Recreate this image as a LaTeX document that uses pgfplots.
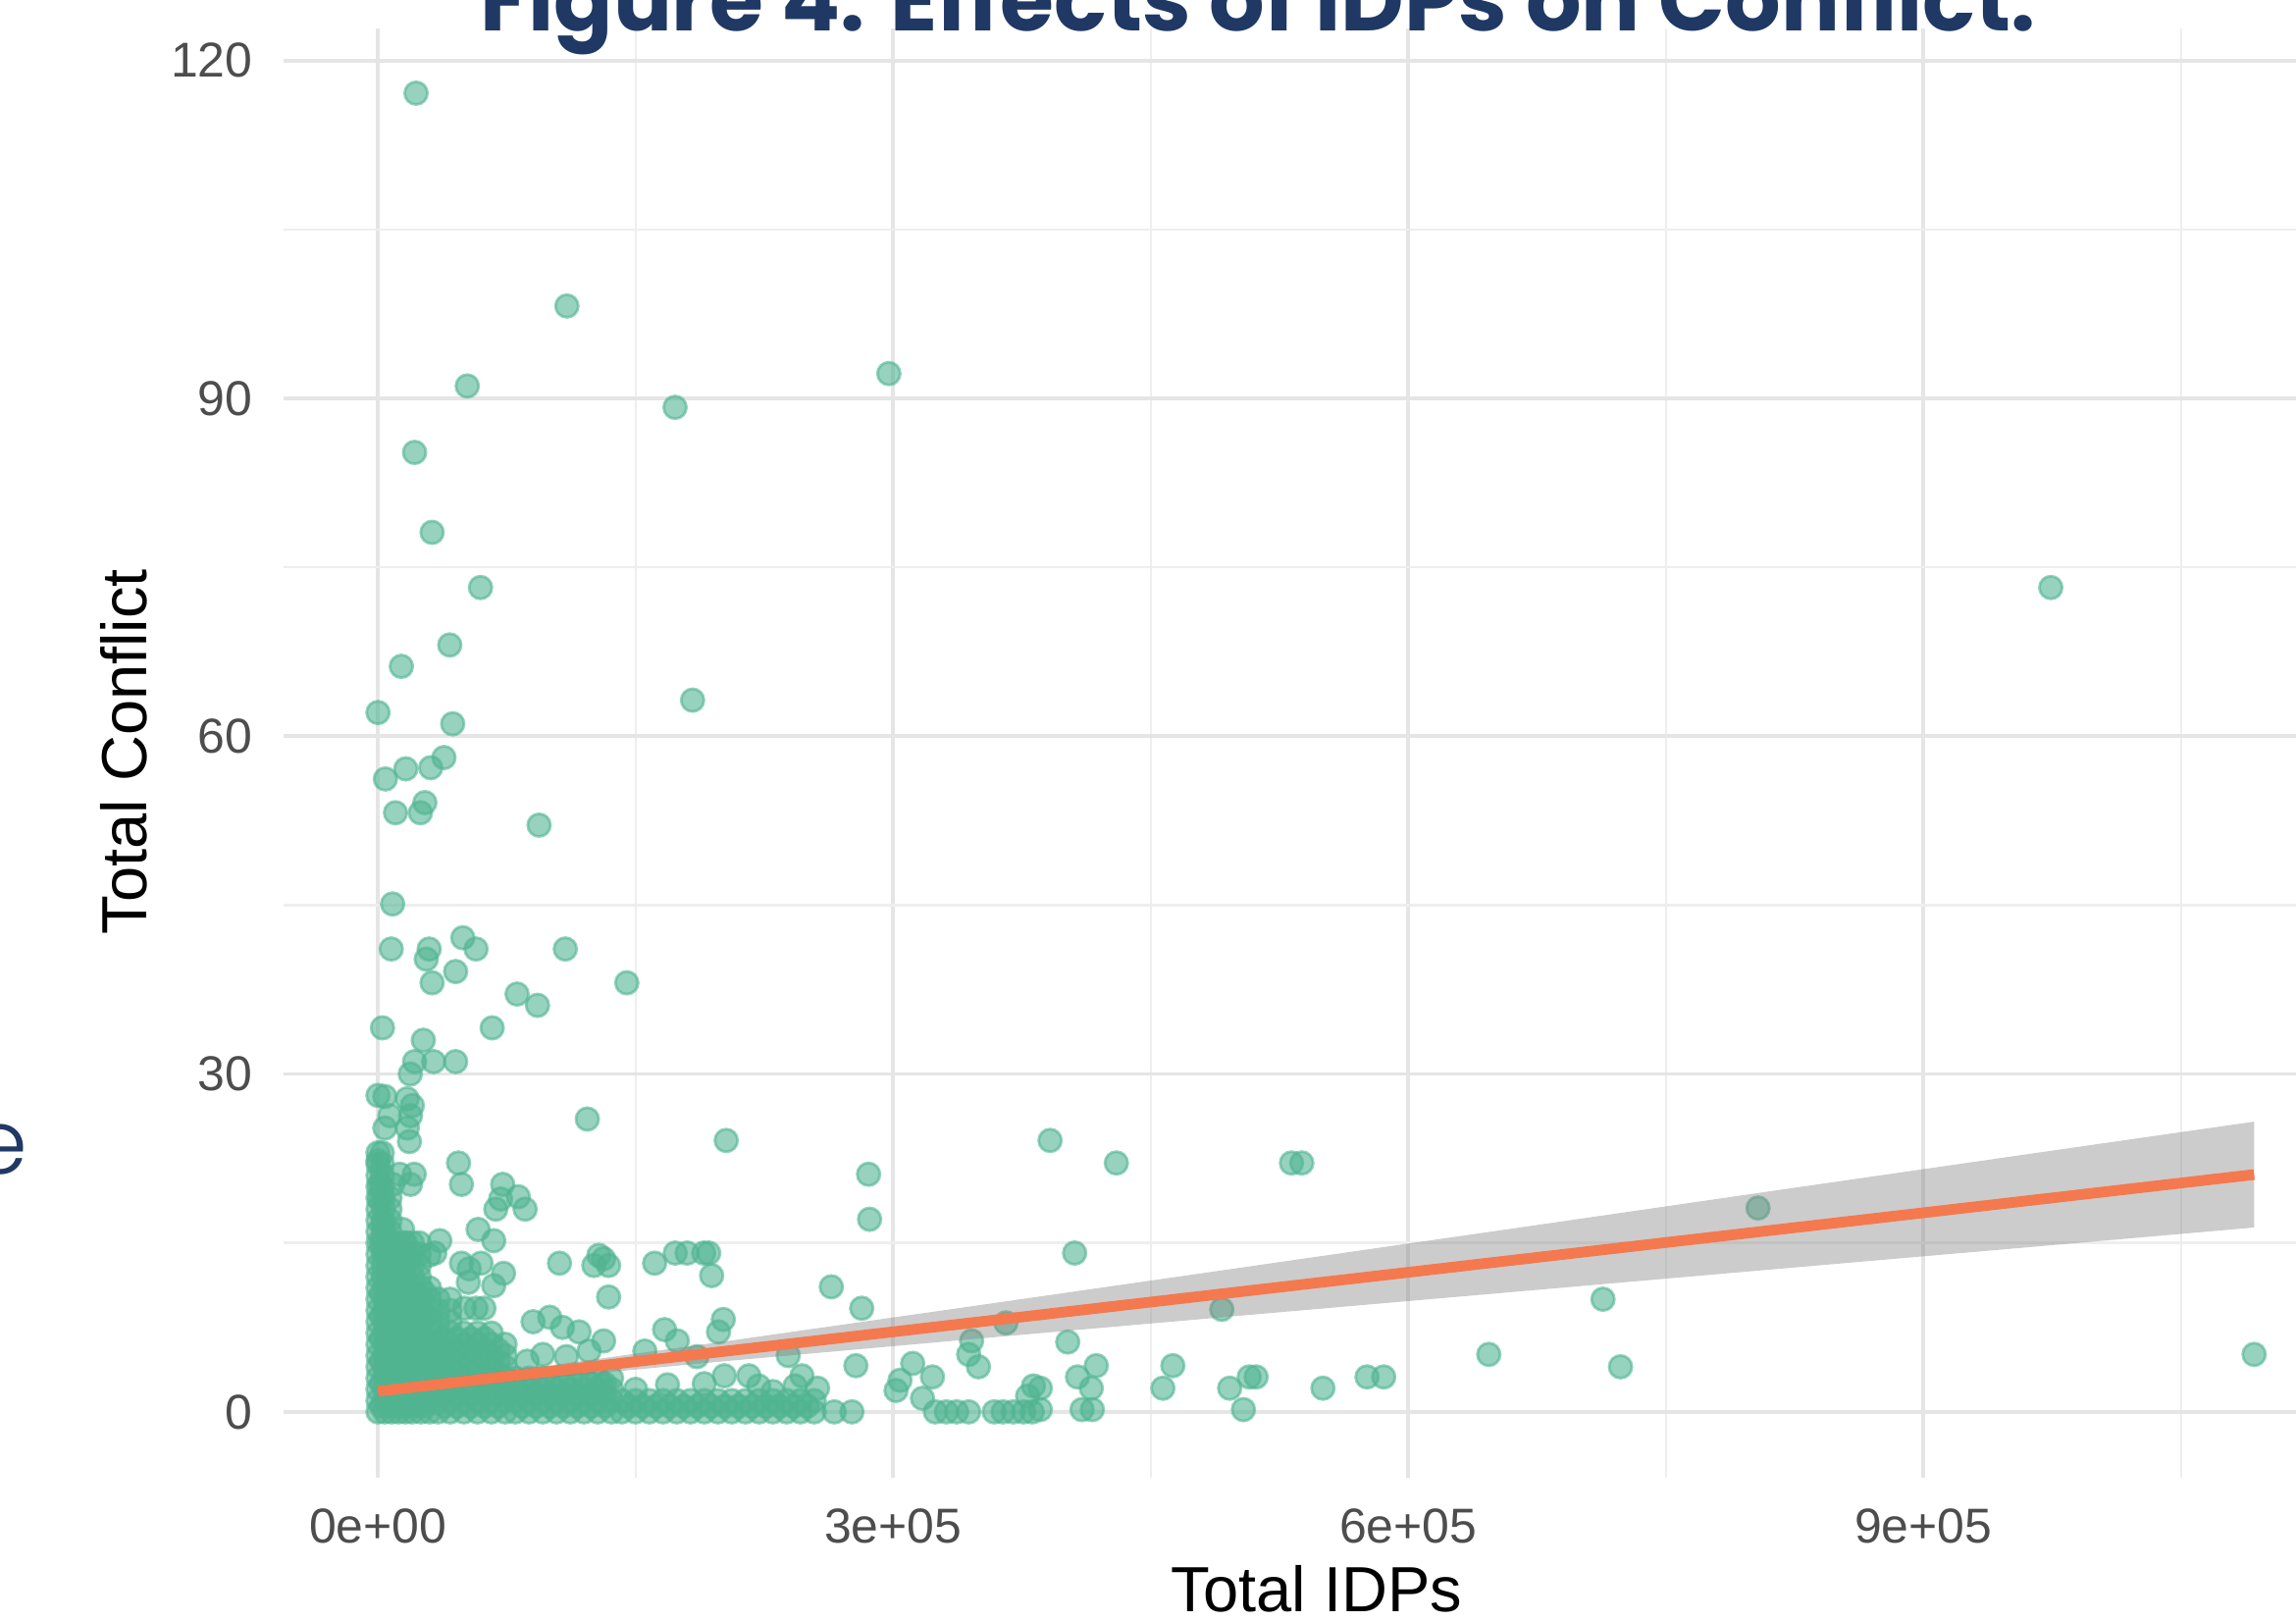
\documentclass[border=0pt]{standalone}
\usepackage{fontspec}
\setmainfont{Liberation Sans}
\newfontfamily\titlefont{Poppins}
\IfFontExistsTF{Poppins Light}{\newfontfamily\efont{Poppins Light}}{\newfontfamily\efont{Poppins}}
\usepackage{pgfplots}
\pgfplotsset{compat=1.18}
\definecolor{navy}{RGB}{31,56,100}
\definecolor{ptc}{RGB}{80,180,145}
\definecolor{fitc}{RGB}{244,121,79}
\definecolor{gridmaj}{RGB}{229,229,229}
\definecolor{gridmin}{RGB}{238,238,238}
\definecolor{ticklab}{RGB}{77,77,77}
\begin{document}
\begin{tikzpicture}
\useasboundingbox (0,0) rectangle (23.4,16.52);
\clip (0,0) rectangle (23.4,16.52);
\begin{axis}[
 at={(2.89cm,1.46cm)}, anchor=south west,
 scale only axis, width=20.51cm, height=14.77cm,
 xmin=-55000, xmax=1117000, ymin=-5.85, ymax=122.85,
 clip marker paths=true,
 axis line style={draw=none},
 major tick length=0pt, minor tick length=0pt,
 xtick={0,300000,600000,900000}, xticklabels={0e+00,3e+05,6e+05,9e+05},
 ytick={0,30,60,90,120}, yticklabels={0,30,60,90,120},
 minor xtick={150000,450000,750000,1050000}, minor ytick={15,45,75,105},
 scaled x ticks=false, scaled y ticks=false,
 grid=both,
 major grid style={draw=gridmaj, line width=1.1pt},
 minor grid style={draw=gridmin, line width=0.7pt},
 tick label style={font=\fontsize{14.2}{16}\selectfont, text=ticklab, inner sep=0pt},
 xticklabel style={anchor=north, yshift=-0.31cm},
 yticklabel style={anchor=east, xshift=-0.31cm},
 xlabel={Total IDPs}, ylabel={Total Conflict},
 label style={font=\fontsize{18.5}{21}\selectfont, inner sep=0pt},
 xlabel style={at={(rel axis cs:0.5134,-0.0921)}, anchor=base},
 ylabel style={at={(rel axis cs:-0.0678,0.501)}, anchor=base},
]
% scattered points
\addplot[only marks, mark=*, mark size=3.3pt, line width=0.8pt,
  mark options={fill=ptc, draw=ptc, fill opacity=0.6, draw opacity=0.6}] coordinates {
(22160,117.1)(110000,98.2)(52000,91.1)(297500,92.2)(173000,89.2)(21300,85.2)
(31500,78.1)(59700,73.2)(974200,73.2)(41800,68.1)(13600,66.2)(183200,63.2)
(0,62.1)(43500,61.1)(38400,58.1)(30700,57.2)(16200,57.1)(4300,56.2)
(27300,54.1)(24700,53.2)(10200,53.2)(93800,52.1)(8500,45.1)(29800,41.1)
(49400,42.1)(57100,41.1)(7700,41.1)(109100,41.1)(28100,40.2)(45200,39.1)
(31500,38.1)(144900,38.1)(81000,37.1)(92900,36.1)(66500,34.1)(2600,34.1)
(26400,33.0)(21300,31.1)(32400,31.1)(45200,31.1)(18800,30.0)
(0,28.1)(4000,28.0)(17000,27.8)(20000,27.2)(18900,26.3)(6900,26.3)(4000,25.2)
(17100,25.2)(18300,24.0)(121900,26.0)
(0,22.3)(1100,20.2)(12600,21.1)(21100,21.1)(18900,20.2)(8600,20.2)(1100,18.9)
(46900,22.1)(48600,20.2)(72600,20.2)(71400,18.9)(81700,19.1)(85700,18.0)(68600,18.0)
(58300,16.2)(67400,15.2)(36000,15.2)(33100,14.1)(29700,13.9)
(2900,16.7)(1700,15.0)(14300,16.2)(16000,15.0)(4000,14.1)(18300,13.6)
(48600,13.2)(53100,12.7)(60000,13.2)(73100,12.3)(67400,11.2)(52600,11.5)
(50300,9.2)(61700,9.2)(57100,9.2)(105700,13.2)(128600,13.9)(131400,13.6)
(125700,13.0)(134300,13.0)(134300,10.2)(161100,13.2)(173100,14.1)(189700,14.1)
(90300,8.0)(100000,8.4)(107400,7.5)(117100,7.1)(131400,6.3)(96000,5.1)
(109700,4.9)(86900,4.5)(122900,5.4)(166900,7.3)(174300,6.3)(155400,5.4)
(168600,2.4)(130300,2.4)
(202800,24.1)(285700,21.1)(286300,17.1)(391400,24.1)(430000,22.1)(532000,22.1)(538000,22.1)
(192600,14.1)(194300,12.1)(180000,14.1)(264000,11.1)(281700,9.2)(201100,8.2)
(198300,7.1)(185700,4.9)(238900,5.0)(278300,4.1)(201700,3.2)(216000,3.2)
(221700,2.3)(246900,3.2)(256000,2.1)(242900,2.3)(304000,2.8)(311400,4.3)
(322900,3.1)(301700,1.9)(317100,1.2)(345700,6.3)(344000,5.1)(349700,4.0)
(365700,7.9)(381700,2.3)(378300,1.4)(405700,14.1)(491400,9.1)(401700,6.2)
(418300,4.1)(407400,3.1)(415400,2.1)(410000,0.2)(416000,0.2)(385700,2.1)
(385700,0.2)(462900,4.1)(457100,2.1)(496000,2.1)(507400,3.1)(511400,3.1)
(504000,0.2)(550300,2.1)(576000,3.1)(585700,3.1)(646900,5.1)(713400,10.0)
(723600,4.0)(803700,18.1)(1092600,5.1)
(265700,0)(276000,0)(324600,0)(331000,0)(337000,0)(344000,0)(358900,0)
(364000,0)(370000,0)(376000,0)(381000,0)
% dense block A
(0,0)(0,1)(0,2)(0,3)(0,4)(0,5)(0,6)(0,7)(0,8)(0,9)(0,10)(0,11)
(4000,0)(4000,1)(4000,2)(4000,3)(4000,4)(4000,5)(4000,6)(4000,7)(4000,8)(4000,9)(4000,10)(4000,11)
(8000,0)(8000,1)(8000,2)(8000,3)(8000,4)(8000,5)(8000,6)(8000,7)(8000,8)(8000,9)(8000,10)(8000,11)
(12000,0)(12000,1)(12000,2)(12000,3)(12000,4)(12000,5)(12000,6)(12000,7)(12000,8)(12000,9)(12000,10)(12000,11)
(16000,0)(16000,1)(16000,2)(16000,3)(16000,4)(16000,5)(16000,6)(16000,7)(16000,8)(16000,9)(16000,10)(16000,11)
(20000,0)(20000,1)(20000,2)(20000,3)(20000,4)(20000,5)(20000,6)(20000,7)(20000,8)(20000,9)(20000,10)(20000,11)
(25000,0)(25000,1)(25000,2)(25000,3)(25000,4)(25000,5)(25000,6)(25000,7)(25000,8)(25000,9)(25000,10)(25000,11)
(30000,0)(30000,1)(30000,2)(30000,3)(30000,4)(30000,5)(30000,6)(30000,7)(30000,8)(30000,9)(30000,10)(30000,11)
(2000,0.5)(2000,2.5)(2000,4.5)(2000,6.5)(2000,8.5)(2000,10.5)
(6000,0.5)(6000,2.5)(6000,4.5)(6000,6.5)(6000,8.5)(6000,10.5)
(10000,0.5)(10000,2.5)(10000,4.5)(10000,6.5)(10000,8.5)(10000,10.5)
(14000,0.5)(14000,2.5)(14000,4.5)(14000,6.5)(14000,8.5)(14000,10.5)
(18000,0.5)(18000,2.5)(18000,4.5)(18000,6.5)(18000,8.5)(18000,10.5)
(22500,0.5)(22500,2.5)(22500,4.5)(22500,6.5)(22500,8.5)(22500,10.5)
(27500,0.5)(27500,2.5)(27500,4.5)(27500,6.5)(27500,8.5)(27500,10.5)
% block B
(0,12)(0,13)(0,14)(0,15)(0,16)(0,17)(0,18)(0,19)
(3000,12)(3000,13)(3000,14)(3000,15)(3000,16)(3000,17)(3000,18)(3000,19)
(7000,12)(7000,13)(7000,14)(7000,15)(7000,16)(7000,17)(7000,18)(7000,19)
(11000,12)(11000,13)(11000,14)(11000,15)(15000,12)(15000,13)(15000,14)(15000,15)
(20000,12)(20000,13)(20000,14)(20000,15)(24000,12)(24000,13)(24000,14)(24000,15)
(0,20)(0,21)(0,22)(0,23)(2500,20)(2500,21)(2500,22)(2500,23)
% block C
(35000,0)(35000,1)(35000,2)(35000,3)(35000,4)(35000,5)(35000,6)(35000,7)(35000,8)(35000,9)(35000,10)
(42000,0)(42000,1)(42000,2)(42000,3)(42000,4)(42000,5)(42000,6)(42000,7)(42000,8)(42000,9)(42000,10)
(50000,0)(50000,1)(50000,2)(50000,3)(50000,4)(50000,5)(50000,6)(50000,7)
(58000,0)(58000,1)(58000,2)(58000,3)(58000,4)(58000,5)(58000,6)(58000,7)
(66000,0)(66000,1)(66000,2)(66000,3)(66000,4)(66000,5)(66000,6)(66000,7)
(74000,0)(74000,1)(74000,2)(74000,3)(74000,4)(74000,5)(74000,6)
(38500,0.5)(38500,1.5)(38500,2.5)(38500,3.5)(38500,4.5)(38500,5.5)(38500,6.5)
(46000,0.5)(46000,1.5)(46000,2.5)(46000,3.5)(46000,4.5)(46000,5.5)(46000,6.5)
(54000,0.5)(54000,1.5)(54000,2.5)(54000,3.5)(54000,4.5)(54000,5.5)(54000,6.5)
(62000,0.5)(62000,1.5)(62000,2.5)(62000,3.5)(62000,4.5)(62000,5.5)(62000,6.5)
(70000,0.5)(70000,1.5)(70000,2.5)(70000,3.5)(70000,4.5)(70000,5.5)
% block D
(80000,0)(80000,1)(80000,2)(80000,3)(88000,0)(88000,1)(88000,2)(88000,3)
(96000,0)(96000,1)(96000,2)(96000,3)(104000,0)(104000,1)(104000,2)(104000,3)
(112000,0)(112000,1)(112000,2)(112000,3)(120000,0)(120000,1)(120000,2)(120000,3)
(128000,0)(128000,1)(128000,2)(128000,3)(136000,0)(136000,1)(136000,2)(136000,3)
(84000,0.5)(84000,1.5)(84000,2.5)(92000,0.5)(92000,1.5)(92000,2.5)
(100000,0.5)(100000,1.5)(100000,2.5)(108000,0.5)(108000,1.5)(108000,2.5)
(116000,0.5)(116000,1.5)(116000,2.5)(124000,0.5)(124000,1.5)(124000,2.5)
(132000,0.5)(132000,1.5)(132000,2.5)
% block E
(142000,0)(142000,1)(150000,0)(150000,1)(158000,0)(158000,1)(166000,0)(166000,1)
(174000,0)(174000,1)(182000,0)(182000,1)(190000,0)(190000,1)(198000,0)(198000,1)
(206000,0)(206000,1)(214000,0)(214000,1)(222000,0)(222000,1)(230000,0)(230000,1)
(238000,0)(238000,1)(246000,0)(246000,1)(254000,0)(254000,1)
(146000,0.5)(154000,0.5)(162000,0.5)(170000,0.5)(178000,0.5)(186000,0.5)(194000,0.5)
(202000,0.5)(210000,0.5)(218000,0.5)(226000,0.5)(234000,0.5)(242000,0.5)(250000,0.5)
(150000,2)(190000,2.5)(230000,1.8)
};
% confidence band
\addplot[draw=none, fill=gray, fill opacity=0.4] coordinates {
(0,1.37)(100000,3.04)(200000,4.47)(350000,6.51)(500000,8.51)(650000,10.50)
(800000,12.49)(950000,14.47)(1092600,16.37)
(1092600,25.77)(950000,22.65)(800000,19.35)(650000,16.04)(500000,12.75)
(350000,9.47)(200000,6.21)(100000,4.12)(0,2.27)} -- cycle;
% fitted line
\addplot[fitc, line width=3.1pt] coordinates {(0,1.82)(1092600,21.07)};
\end{axis}
\node[anchor=base west, inner sep=0pt, text=navy] at (4.89,16.203)
  {\resizebox{15.85cm}{!}{\titlefont\bfseries Figure 4: Effects of IDPs on Conflict:}};
\node[anchor=base east, inner sep=0pt, text=navy] at (0.29,4.55)
  {\fontsize{26}{30}\selectfont\efont e};
\end{tikzpicture}
\end{document}
